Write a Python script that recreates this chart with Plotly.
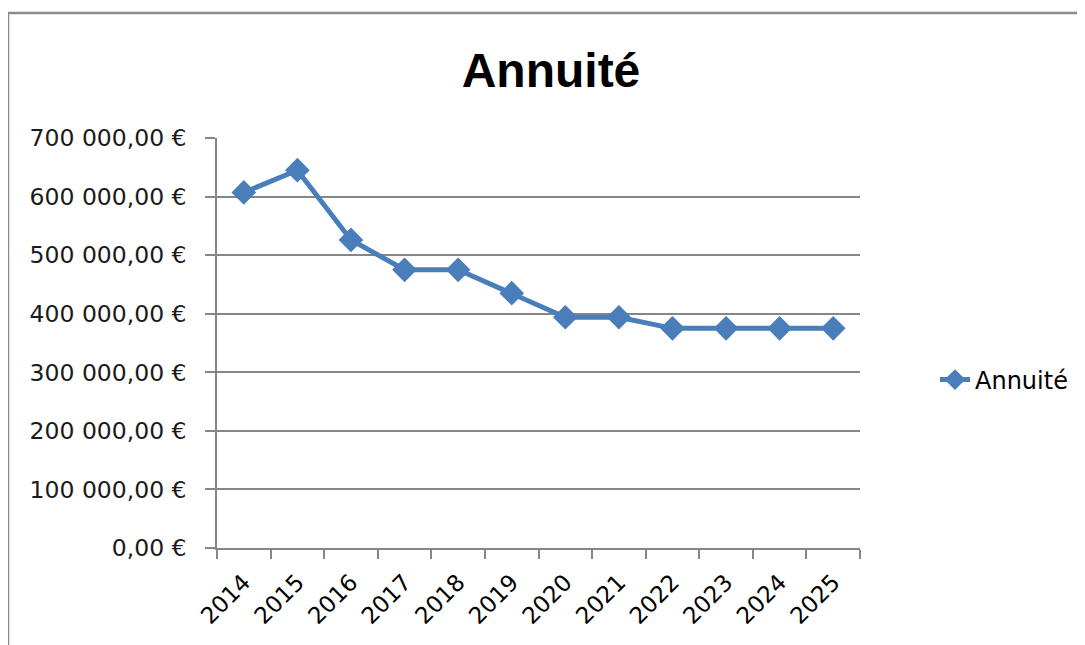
import plotly.graph_objects as go

years = ["2014", "2015", "2016", "2017", "2018", "2019", "2020", "2021", "2022", "2023", "2024", "2025"]
annuite = [607000, 645000, 526000, 475000, 475000, 435000, 394000, 394000, 375000, 375000, 375000, 375000]
y_tickvals = [0, 100000, 200000, 300000, 400000, 500000, 600000, 700000]
y_ticktext = ["0,00 €", "100 000,00 €", "200 000,00 €", "300 000,00 €", "400 000,00 €",
              "500 000,00 €", "600 000,00 €", "700 000,00 €"]

blue = "#4A7EBB"
grey = "#868686"
font = "DejaVu Sans"

W, H = 1085, 645
OFF = 8  # page body margin shifts the figure by 8px
# plot area in screen pixels
SL, SR, ST, SB = 217, 860, 138, 548
L, T = SL - OFF, ST - OFF
pw, ph = SR - SL, SB - ST
R, B = W - L - pw, H - T - ph

def px2x(px):  # screen px -> paper x
    return (px - SL) / pw

def py2y(py):  # screen px -> paper y
    return (SB - py) / ph

fig = go.Figure()
fig.add_trace(go.Scatter(
    x=years, y=annuite, name="Annuité", mode="lines+markers",
    line=dict(color=blue, width=5),
    marker=dict(symbol="diamond", size=19, color=blue),
))

fig.update_layout(
    width=W, height=H,
    margin=dict(l=L, r=R, t=T, b=B, pad=0, autoexpand=False),
    paper_bgcolor="white", plot_bgcolor="white",
    title=dict(text="<b>Annuité</b>", x=(551 - OFF) / W, xanchor="center",
               y=1 - (70 - OFF) / H, yanchor="middle",
               font=dict(family="Liberation Sans", size=48, color="black")),
    font=dict(family=font, size=23.5, color="#1a1a1a"),
    showlegend=True,
    legend=dict(x=px2x(935), y=py2y(380), xanchor="left", yanchor="middle",
                font=dict(family=font, size=24, color="black"), bgcolor="rgba(0,0,0,0)"),
    xaxis=dict(type="category", range=[-0.5, len(years) - 0.5], tickson="boundaries",
               ticks="outside", ticklen=9,
               tickcolor=grey, tickwidth=1.5, showline=True, linecolor=grey, linewidth=1.5,
               showgrid=False, tickangle=-45, ticklabelstandoff=10,
               tickfont=dict(family=font, size=23, color="black")),
    yaxis=dict(range=[0, 700000], tickvals=y_tickvals, ticktext=y_ticktext,
               ticks="outside", ticklen=10, tickcolor=grey, tickwidth=1.5,
               showline=True, linecolor=grey, linewidth=1.5,
               showgrid=True, gridcolor=grey, gridwidth=1.5, zeroline=False,
               tickfont=dict(family=font, size=23.5, color="#1a1a1a"), ticklabelstandoff=14),
)

fig.add_shape(type="rect", xref="paper", yref="paper",
              x0=px2x(8), x1=px2x(W + 40), y0=py2y(H + 40), y1=py2y(13),
              line=dict(color="#8a8a8a", width=2.5), fillcolor="rgba(0,0,0,0)", layer="below")

fig.write_html("out.html")
